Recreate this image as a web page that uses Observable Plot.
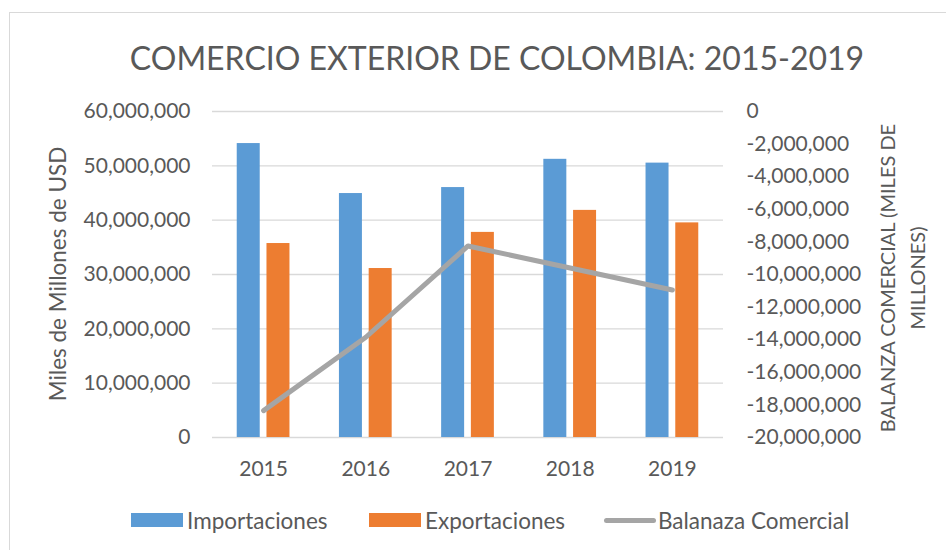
<!DOCTYPE html>
<html>
<head>
<meta charset="utf-8">
<script src="https://cdn.jsdelivr.net/npm/d3@7"></script>
<script src="https://cdn.jsdelivr.net/npm/@observablehq/plot@0.6"></script>
<style>
  html, body { margin: 0; padding: 0; background: #ffffff; }
  #wrap { position: relative; width: 946px; height: 550px; overflow: hidden; font-family: Lato, "Open Sans", sans-serif; color: #595959; }
  #frame { position: absolute; left: 9px; top: 12px; width: 960px; height: 560px; border-left: 1.5px solid #d9d9d9; border-top: 1.5px solid #d9d9d9; }
  #chart { position: absolute; left: 0; top: 0; }
  .title { position: absolute; left: 497px; top: 38px; transform: translateX(-50%); font-size: 32px; white-space: nowrap; }
  .ytitle { position: absolute; transform: translate(-50%, -50%) rotate(-90deg); white-space: nowrap; text-align: center; line-height: 30px; }
  .legend { position: absolute; top: 507px; left: 0; width: 946px; height: 26px; font-size: 22.5px; }
  .item { position: absolute; top: 0; display: flex; align-items: center; height: 26px; }
  .sw { display: inline-block; width: 52px; height: 14px; margin-right: 4px; }
  .swl { display: inline-block; width: 52px; height: 5px; border-radius: 3px; margin-right: 2px; }
</style>
</head>
<body>
<div id="wrap">
  <div id="frame"></div>
  <div id="chart"></div>
  <div class="title">COMERCIO EXTERIOR DE COLOMBIA: 2015-2019</div>
  <div class="ytitle" style="left:58px; top:274px; font-size:22.5px;">Miles de Millones de USD</div>
  <div class="ytitle" style="left:902px; top:278px; font-size:20px;">BALANZA COMERCIAL (MILES DE<br>MILLONES)</div>
  <div class="legend">
    <div class="item" style="left:131px;"><span class="sw" style="background:#5B9BD5"></span>Importaciones</div>
    <div class="item" style="left:369px;"><span class="sw" style="background:#ED7D31"></span>Exportaciones</div>
    <div class="item" style="left:604px;"><span class="swl" style="background:#A5A5A5"></span>Balanaza Comercial</div>
  </div>
</div>
<script>
// ---- Data ----
const years = [2015, 2016, 2017, 2018, 2019];
const importaciones = [54.1e6, 44.9e6, 46.0e6, 51.2e6, 50.5e6];
const exportaciones = [35.7e6, 31.1e6, 37.75e6, 41.8e6, 39.5e6];
const balanza = [-18.35e6, -13.85e6, -8.25e6, -9.6e6, -10.95e6];
const leftTicks = [0, 10e6, 20e6, 30e6, 40e6, 50e6, 60e6];
const rightTicks = [0, -2e6, -4e6, -6e6, -8e6, -10e6, -12e6, -14e6, -16e6, -18e6, -20e6];

// ---- Secondary axis mapping: right [-20M, 0] onto left [0, 60M] ----
const rightMin = -20e6, rightMax = 0, leftMax = 60e6;
const k = leftMax / (rightMax - rightMin);
const toLeft = b => (b - rightMin) * k;
const fromLeft = v => v / k + rightMin;

const rows = years.map((year, i) => ({year, imp: importaciones[i], exp: exportaciones[i], bal: balanza[i]}));
const fmt = v => d3.format(",")(v).replace("\u2212", "-");

const chart = Plot.plot({
  width: 946,
  height: 550,
  marginLeft: 212,
  marginRight: 223,
  marginTop: 111,
  marginBottom: 113,
  style: {fontFamily: "Lato, 'Open Sans', sans-serif", fontSize: "21px", color: "#595959", background: "transparent", overflow: "visible"},
  x: {domain: [years[0] - 0.5, years[years.length - 1] + 0.5]},
  y: {domain: [0, leftMax]},
  marks: [
    Plot.gridY(leftTicks, {stroke: "#d9d9d9", strokeOpacity: 1, strokeWidth: 1.4}),
    Plot.rectY(rows, {x1: d => d.year - 0.258, x2: d => d.year - 0.033, y: "imp", fill: "#5B9BD5"}),
    Plot.rectY(rows, {x1: d => d.year + 0.033, x2: d => d.year + 0.258, y: "exp", fill: "#ED7D31"}),
    Plot.lineY(rows, {x: "year", y: d => toLeft(d.bal), stroke: "#A5A5A5", strokeWidth: 5, strokeLinecap: "round", strokeLinejoin: "round"}),
    Plot.axisX({ticks: years, tickFormat: d => String(d), tickSize: 0, tickPadding: 24, label: null, fill: "#595959"}),
    Plot.axisY({anchor: "left", ticks: leftTicks, tickFormat: fmt, tickSize: 0, tickPadding: 22, label: null, fill: "#595959"}),
    Plot.axisY({anchor: "right", ticks: rightTicks.map(toLeft), tickFormat: v => fmt(Math.round(fromLeft(v))), tickSize: 0, tickPadding: 23, label: null, fill: "#595959"})
  ]
});
document.getElementById("chart").appendChild(chart);
</script>
</body>
</html>
